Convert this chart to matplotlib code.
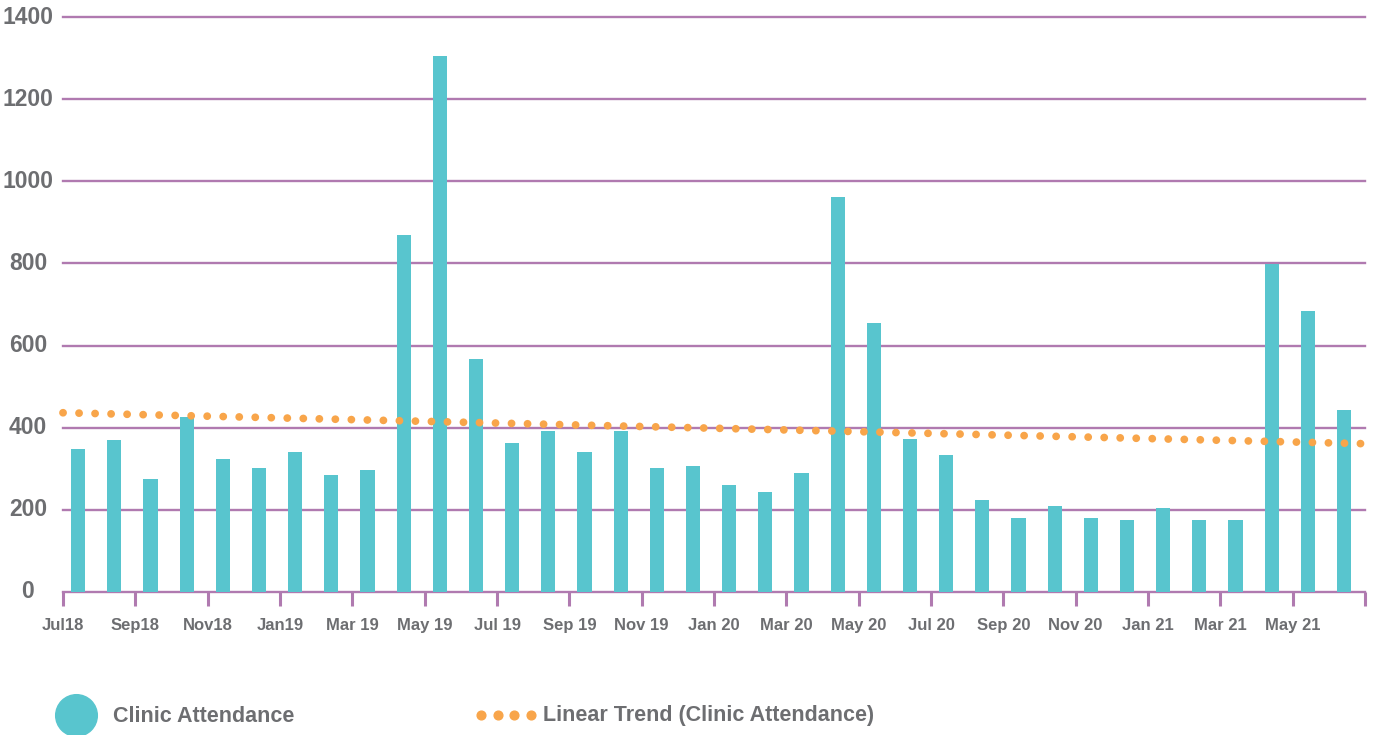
import numpy as np
import matplotlib
matplotlib.use("Agg")
import matplotlib.pyplot as plt
from matplotlib.lines import Line2D

# monthly clinic attendance, Jul 2018 - Jun 2021
months = ["Jul18", "Aug18", "Sep18", "Oct18", "Nov18", "Dec18",
          "Jan19", "Feb19", "Mar 19", "Apr 19", "May 19", "Jun 19",
          "Jul 19", "Aug 19", "Sep 19", "Oct 19", "Nov 19", "Dec 19",
          "Jan 20", "Feb 20", "Mar 20", "Apr 20", "May 20", "Jun 20",
          "Jul 20", "Aug 20", "Sep 20", "Oct 20", "Nov 20", "Dec 20",
          "Jan 21", "Feb 21", "Mar 21", "Apr 21", "May 21", "Jun 21"]
attendance = [347, 369, 274, 425, 325, 301,
              342, 284, 296, 870, 1305, 568,
              362, 391, 340, 391, 301, 308,
              260, 243, 289, 962, 656, 372,
              333, 223, 180, 209, 180, 175,
              204, 175, 175, 798, 685, 443]
y_ticks = [0, 200, 400, 600, 800, 1000, 1200, 1400]

BAR = "#58C5CE"
GRID = "#B07AB0"
TREND = "#F8A54A"
TEXT = "#6D6E71"
FONT = "Liberation Sans"

W, H, DPI = 1379, 735, 100
fig = plt.figure(figsize=(W / DPI, H / DPI), dpi=DPI)
ax = fig.add_axes([63 / W, 1 - 592 / H, (1365 - 63) / W, (592 - 17) / H])

n = len(attendance)
idx = np.arange(n)
xc = idx + 0.42
ax.bar(xc, attendance, width=0.39, color=BAR, zorder=2)

# linear trend through the monthly values
slope, icpt = np.polyfit(xc, attendance, 1)
xt = np.array([0.0, 35.9])
ax.plot(xt, slope * xt + icpt, color=TREND, lw=5.6, ls=(0, (0.01, 2.05)),
        dash_capstyle="round", zorder=3, clip_on=False)

ax.set_xlim(0, n)
ax.set_ylim(0, 1400)

for v in y_ticks:
    ax.axhline(v, color=GRID, lw=1.7, zorder=1, clip_on=False)
    fig.text(28 / W, ax.transData.transform((0, v))[1] / H, str(v),
             ha="center", va="center", fontsize=16.5, color=TEXT,
             family=FONT, fontweight="bold")

for s in ax.spines.values():
    s.set_visible(False)
ax.set_yticks([])

tick_pos = list(range(0, n + 1, 2))
tick_lab = [months[i] if i < n else "" for i in tick_pos]
ax.set_xticks(tick_pos)
ax.set_xticklabels(tick_lab, fontsize=12, color=TEXT, family=FONT,
                   fontweight="bold")
ax.tick_params(axis="x", length=10, width=2.2, color=GRID, pad=9)

# legend
fig.add_artist(Line2D([76 / W], [1 - 715 / H], marker="o", markersize=30,
                      color=BAR, transform=fig.transFigure, ls="none"))
fig.text(113 / W, 1 - 716 / H, "Clinic Attendance", ha="left", va="center",
         fontsize=15.5, color=TEXT, family=FONT, fontweight="bold")
fig.add_artist(Line2D(np.array([481, 497.5, 514, 530.5]) / W, [1 - 715 / H] * 4,
                      marker="o", markersize=6.3, color=TREND, ls="none",
                      transform=fig.transFigure))
fig.text(543 / W, 1 - 716 / H, "Linear Trend (Clinic Attendance)", ha="left",
         va="center", fontsize=15.5, color=TEXT, family=FONT,
         fontweight="bold")

fig.savefig("out.png", dpi=DPI)
